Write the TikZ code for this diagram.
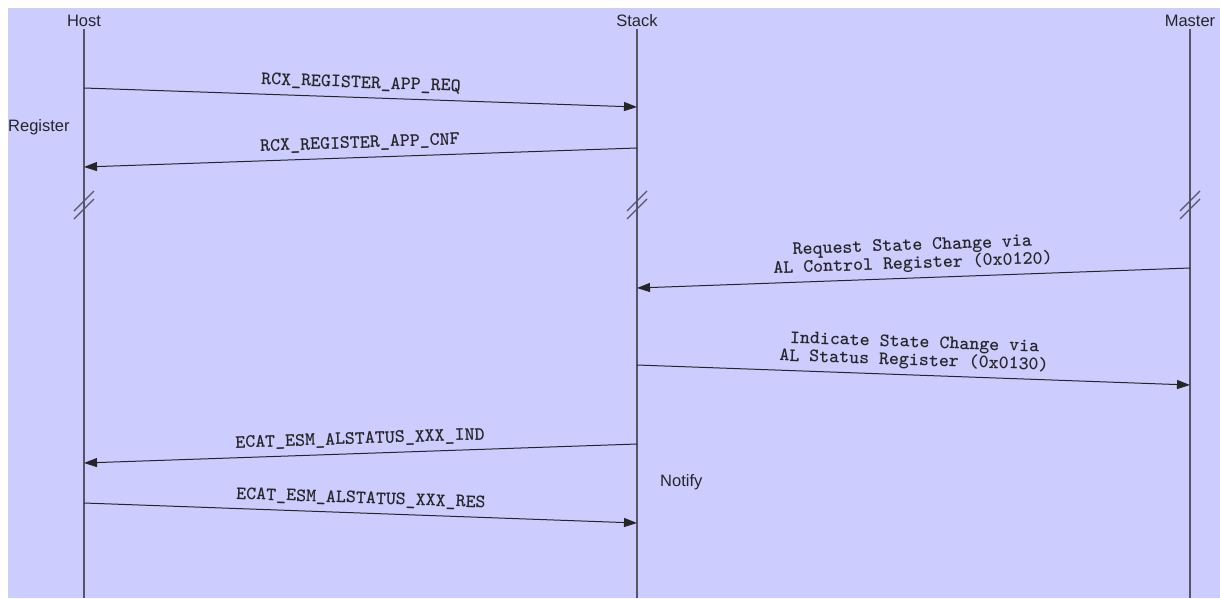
\documentclass[tikz,border=0pt]{standalone}
\usepackage{fontspec}
\setmainfont{Liberation Sans}
\usetikzlibrary{arrows.meta}
\definecolor{mscbg}{HTML}{CCCCFF}
\definecolor{lifegray}{HTML}{555566}

\begin{document}
\begin{tikzpicture}[
  x=1pt, y=-1pt,
  actor/.style={font=\fontsize{16.5}{18}\selectfont, inner sep=0pt, text=black!85},
  note/.style={font=\fontsize{16.5}{18}\selectfont, inner sep=0pt, text=black!85},
  life/.style={lifegray, line width=1.4pt},
  brk/.style={lifegray, line width=1.3pt},
  msg/.style={-{Triangle[length=13pt,width=9pt]}, line width=1pt, black!85},
  lbl/.style={font=\ttfamily\bfseries\fontsize{19}{18}\selectfont, inner sep=0pt, text depth=0pt, align=center, midway, sloped, above=9pt}
]
\useasboundingbox (0,0) rectangle (1220,598);
\fill[mscbg] (8,8) rectangle (1220,598);
% actors and lifelines
\node[actor] (host) at (84,20.5) {Host};
\node[actor] (stack) at (637,20.5) {Stack};
\node[actor] (master) at (1190,20.5) {Master};
\coordinate (hostTop) at (84,29);     \coordinate (hostEnd) at (84,598);
\coordinate (stackTop) at (637,29);   \coordinate (stackEnd) at (637,598);
\coordinate (masterTop) at (1190,29); \coordinate (masterEnd) at (1190,598);
\draw[life] (hostTop) -- (hostEnd);
\draw[life] (stackTop) -- (stackEnd);
\draw[life] (masterTop) -- (masterEnd);
% breaks
\foreach \lx in {84,637,1190} {
  \draw[brk] (\lx-10,211) -- (\lx+10,191);
  \draw[brk] (\lx-10,219) -- (\lx+10,199);
}
% boxes of text beside the lifelines
\node[note, anchor=base west] (register) at (8,131) {Register};
\node[note, anchor=base west] (notify) at (660,486.5) {Notify};
% message end points
\coordinate (reqH) at (84,88);    \coordinate (reqS) at (637,107);
\coordinate (cnfS) at (637,148);  \coordinate (cnfH) at (84,167);
\coordinate (ctlM) at (1190,268); \coordinate (ctlS) at (637,288);
\coordinate (stsS) at (637,365);  \coordinate (stsM) at (1190,385);
\coordinate (indS) at (637,444);  \coordinate (indH) at (84,463);
\coordinate (resH) at (84,503);   \coordinate (resS) at (637,523);
% messages
\draw[msg] (reqH) -- node[lbl] {RCX\_REGISTER\_APP\_REQ} (reqS);
\draw[msg] (cnfS) -- node[lbl] {RCX\_REGISTER\_APP\_CNF} (cnfH);
\draw[msg] (ctlM) -- node[lbl] {Request State Change via\\AL Control Register (0x0120)} (ctlS);
\draw[msg] (stsS) -- node[lbl] {Indicate State Change via\\AL Status Register (0x0130)} (stsM);
\draw[msg] (indS) -- node[lbl] {ECAT\_ESM\_ALSTATUS\_XXX\_IND} (indH);
\draw[msg] (resH) -- node[lbl] {ECAT\_ESM\_ALSTATUS\_XXX\_RES} (resS);
\end{tikzpicture}
\end{document}
